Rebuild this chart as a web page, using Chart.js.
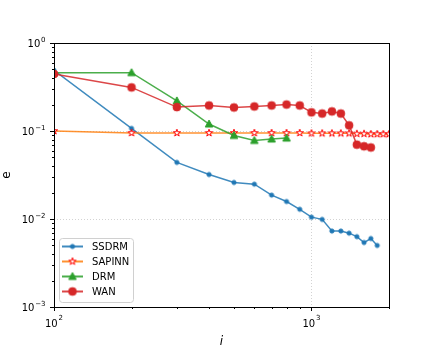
<!DOCTYPE html>
<html>
<head>
<meta charset="utf-8">
<script src="https://cdn.jsdelivr.net/npm/chart.js@4.4.0/dist/chart.umd.min.js"></script>
<style>
  html, body { margin: 0; padding: 0; background: #fff; }
</style>
</head>
<body>
<canvas id="chart" width="432" height="360"></canvas>
<script>
// iterations (x) and error values (y)
const iters = [100, 200, 300, 400, 500, 600, 700, 800, 900, 1000,
               1100, 1200, 1300, 1400, 1500, 1600, 1700, 1800, 1900, 2000];

const ssdrm = [0.49, 0.107, 0.044, 0.032, 0.026, 0.0249, 0.0187, 0.0158, 0.0129, 0.0105,
               0.0099, 0.0073, 0.0073, 0.0069, 0.0063, 0.0054, 0.0060, 0.0050];
const sapinn = [0.100, 0.095, 0.095, 0.095, 0.095, 0.095, 0.095, 0.095, 0.095, 0.094,
                0.094, 0.094, 0.094, 0.094, 0.093, 0.093, 0.092, 0.092, 0.092, 0.092];
const drm = [0.46, 0.46, 0.22, 0.12, 0.089, 0.078, 0.081, 0.083];
const wan = [0.445, 0.313, 0.187, 0.195, 0.185, 0.19, 0.195, 0.2, 0.195, 0.163,
             0.158, 0.167, 0.158, 0.116, 0.070, 0.067, 0.065];

const xMajor = [100, 1000];
const xTicks = [100, 200, 300, 400, 500, 600, 700, 800, 900, 1000, 2000];
const yMajor = [0.001, 0.01, 0.1, 1];
const yTicks = [];
[0.001, 0.01, 0.1].forEach(d => { for (let k = 1; k < 10; k++) yTicks.push(+(d * k).toPrecision(3)); });
yTicks.push(1);

// tick labels as base + exponent
const xLabels = [[100, '10', '2'], [1000, '10', '3']];
const yLabels = [[0.001, '10', '\u22123'], [0.01, '10', '\u22122'], [0.1, '10', '\u22121'], [1, '10', '0']];

const FONT = "'DejaVu Sans', sans-serif";

function marker(kind, fill, stroke) {
  const c = document.createElement('canvas');
  c.width = 12; c.height = 12;
  const g = c.getContext('2d');
  g.translate(6, 6);
  g.beginPath();
  if (kind === 'dot') {
    g.arc(0, 0, 2.1, 0, Math.PI * 2);
  } else if (kind === 'circle') {
    g.arc(0, 0, 3.9, 0, Math.PI * 2);
  } else if (kind === 'triangle') {
    g.moveTo(0, -4); g.lineTo(3.8, 3); g.lineTo(-3.8, 3); g.closePath();
  } else if (kind === 'star') {
    const R = 3.8, r = R * 0.382;
    for (let i = 0; i < 10; i++) {
      const a = -Math.PI / 2 + i * Math.PI / 5;
      const rr = i % 2 ? r : R;
      if (i === 0) g.moveTo(rr * Math.cos(a), rr * Math.sin(a));
      else g.lineTo(rr * Math.cos(a), rr * Math.sin(a));
    }
    g.closePath();
  }
  g.fillStyle = fill;
  g.fill();
  g.lineWidth = 1;
  g.strokeStyle = stroke;
  g.stroke();
  return c;
}

const pts = (vals) => vals.map((v, i) => ({ x: iters[i], y: v }));

const series = [
  { label: 'SSDRM', data: pts(ssdrm), line: 'rgba(31,119,180,0.85)', mark: marker('dot', '#1f77b4', '#1f77b4'), order: 4 },
  { label: 'SAPINN', data: pts(sapinn), line: 'rgba(255,127,14,0.85)', mark: marker('star', '#ffffff', '#ff0000'), order: 3 },
  { label: 'DRM', data: pts(drm), line: 'rgba(44,160,44,0.85)', mark: marker('triangle', '#2ca02c', '#2ca02c'), order: 2 },
  { label: 'WAN', data: pts(wan), line: 'rgba(214,39,40,0.85)', mark: marker('circle', '#d62728', '#d62728'), order: 1 }
];

// dotted grid at major ticks, drawn under the lines
const gridPlugin = {
  id: 'mplGrid',
  beforeDatasetsDraw(chart) {
    const { ctx, chartArea: a, scales: { x, y } } = chart;
    ctx.save();
    ctx.strokeStyle = '#c8c8c8';
    ctx.lineWidth = 0.8;
    ctx.setLineDash([1, 2]);
    xMajor.forEach(v => {
      const px = Math.round(x.getPixelForValue(v)) + 0.5;
      ctx.beginPath(); ctx.moveTo(px, a.top); ctx.lineTo(px, a.bottom); ctx.stroke();
    });
    yMajor.forEach(v => {
      const py = Math.round(y.getPixelForValue(v)) + 0.5;
      ctx.beginPath(); ctx.moveTo(a.left, py); ctx.lineTo(a.right, py); ctx.stroke();
    });
    ctx.restore();
  }
};

// frame, tick marks, tick labels and the legend box on top
const framePlugin = {
  id: 'mplFrame',
  afterDraw(chart) {
    const { ctx, chartArea: a, scales: { x, y } } = chart;
    ctx.save();
    ctx.strokeStyle = '#000';
    ctx.lineWidth = 1;
    ctx.strokeRect(Math.round(a.left) + 0.5, Math.round(a.top) + 0.5,
                   Math.round(a.right - a.left), Math.round(a.bottom - a.top));
    xTicks.forEach(v => {
      const len = xMajor.includes(v) ? 4 : 2;
      const px = Math.round(x.getPixelForValue(v)) + 0.5;
      ctx.beginPath(); ctx.moveTo(px, a.bottom); ctx.lineTo(px, a.bottom + len); ctx.stroke();
    });
    yTicks.forEach(v => {
      const len = yMajor.includes(v) ? 4 : 2;
      const py = Math.round(y.getPixelForValue(v)) + 0.5;
      ctx.beginPath(); ctx.moveTo(a.left, py); ctx.lineTo(a.left - len, py); ctx.stroke();
    });

    // tick labels with raised exponents
    ctx.fillStyle = '#000';
    ctx.textBaseline = 'alphabetic';
    ctx.textAlign = 'left';
    const big = '10px ' + FONT, small = '7px ' + FONT;
    const widths = (b, e) => {
      ctx.font = big; const wb = ctx.measureText(b).width;
      ctx.font = small; const we = ctx.measureText(e).width;
      return [wb, we];
    };
    xLabels.forEach(([v, b, e]) => {
      const [wb, we] = widths(b, e);
      const x0 = x.getPixelForValue(v) - (wb + 0.8 + we) / 2;
      ctx.font = big; ctx.fillText(b, x0, a.bottom + 19.5);
      ctx.font = small; ctx.fillText(e, x0 + wb + 0.8, a.bottom + 12.5);
    });
    yLabels.forEach(([v, b, e]) => {
      const [wb, we] = widths(b, e);
      const py = y.getPixelForValue(v);
      const x0 = a.left - 8.5 - we - 0.8 - wb;
      ctx.font = big; ctx.fillText(b, x0, py + 4.3);
      ctx.font = small; ctx.fillText(e, x0 + wb + 0.8, py - 1.2);
    });

    // legend, lower left
    const bx = a.left + 5, bw = 74, bh = 64, by = a.bottom - 5 - bh;
    ctx.beginPath();
    ctx.roundRect(bx + 0.5, by + 0.5, bw, bh, 3);
    ctx.fillStyle = 'rgba(255,255,255,0.8)';
    ctx.fill();
    ctx.strokeStyle = '#d0d0d0';
    ctx.stroke();
    ctx.font = '10px ' + FONT;
    ctx.textBaseline = 'middle';
    ctx.fillStyle = '#000';
    chart.data.datasets.forEach((ds, i) => {
      const ry = by + 8.5 + i * 15;
      ctx.strokeStyle = ds.borderColor;
      ctx.lineWidth = 2;
      ctx.beginPath(); ctx.moveTo(bx + 3, ry); ctx.lineTo(bx + 24, ry); ctx.stroke();
      ctx.drawImage(ds.pointStyle, bx + 13.5 - 6, ry - 6);
      ctx.fillText(ds.label, bx + 33, ry + 0.5);
    });
    ctx.restore();
  }
};

new Chart(document.getElementById('chart'), {
  type: 'line',
  data: {
    datasets: series.map(s => ({
      label: s.label,
      data: s.data,
      borderColor: s.line,
      borderWidth: 1.5,
      pointStyle: s.mark,
      pointRadius: 4,
      pointHoverRadius: 4,
      fill: false,
      tension: 0,
      order: s.order
    }))
  },
  options: {
    responsive: false,
    animation: false,
    devicePixelRatio: 1,
    layout: { padding: { top: 43, right: 43, left: 0, bottom: 0 } },
    plugins: { legend: { display: false }, tooltip: { enabled: false } },
    scales: {
      x: {
        type: 'logarithmic',
        min: 100,
        max: 2000,
        grid: { display: false, drawTicks: false },
        border: { display: false },
        afterBuildTicks: (s) => { s.ticks = xTicks.map(v => ({ value: v })); },
        afterFit: (s) => { s.height = 53; },
        ticks: { display: false },
        title: {
          display: true,
          text: 'i',
          color: '#000',
          font: { family: FONT, size: 12, style: 'italic' },
          padding: { top: 0, bottom: 11 }
        }
      },
      y: {
        type: 'logarithmic',
        min: 0.001,
        max: 1,
        grid: { display: false, drawTicks: false },
        border: { display: false },
        afterBuildTicks: (s) => { s.ticks = yTicks.map(v => ({ value: v })); },
        afterFit: (s) => { s.width = 54; },
        ticks: { display: false },
        title: {
          display: true,
          text: 'e',
          color: '#000',
          font: { family: FONT, size: 12 },
          padding: { top: 0, bottom: 0 }
        }
      }
    }
  },
  plugins: [gridPlugin, framePlugin]
});
</script>
</body>
</html>
